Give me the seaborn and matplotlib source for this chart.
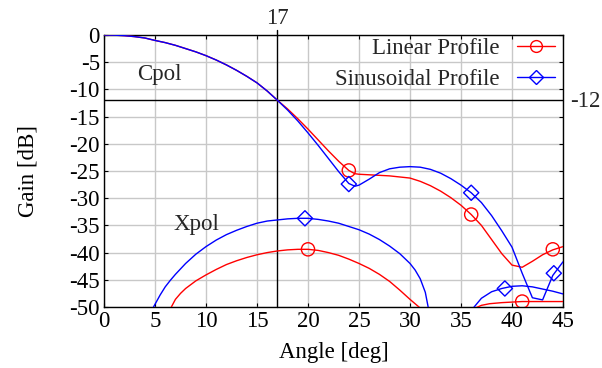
import matplotlib
matplotlib.use("Agg")
import matplotlib.pyplot as plt
from matplotlib.lines import Line2D
import seaborn as sns
import pandas as pd

# Co-polar gain [dB] versus angle [deg]
cpol_angle = [0, 1, 2, 3, 4, 5, 6, 7, 8, 9, 10, 11, 12, 13, 14, 15, 16, 17,
              18, 19, 20, 21, 22, 23, 24, 24.6, 25, 26, 27, 28, 29, 30, 31, 32,
              33, 34, 35, 36, 37, 38, 39, 40, 41, 42, 43, 44, 45]
cpol_linear = [0, -0.03, -0.12, -0.3, -0.55, -1.0, -1.4, -1.9, -2.5, -3.1, -3.8,
               -4.6, -5.5, -6.5, -7.6, -8.8, -10.3, -12.0,
               -13.6, -15.4, -17.3, -19.3, -21.3, -23.2, -24.9, -25.5, -25.6,
               -25.7, -25.8, -25.9, -26.1, -26.3, -26.9, -27.7, -28.7, -29.9,
               -31.3, -33.0, -35.0, -37.6, -40.2, -42.3, -42.7, -41.6, -40.4,
               -39.5, -38.9]
cpol_sinus = [0, -0.03, -0.12, -0.3, -0.55, -1.0, -1.4, -1.9, -2.5, -3.1, -3.8,
              -4.6, -5.5, -6.5, -7.6, -8.8, -10.3, -12.0,
              -13.8, -15.8, -18.0, -20.3, -22.7, -25.1, -27.3, -27.8, -27.6,
              -26.5, -25.3, -24.6, -24.3, -24.2, -24.3, -24.7, -25.4, -26.4,
              -27.6, -29.0, -30.8, -33.2, -36.0, -39.0, -43.8, -48.3, -48.7,
              -44.2, -41.7]

# Cross-polar gain, main lobe
xpol_lin_angle = [6.6, 6.8, 7, 7.5, 8, 9, 10, 11, 12, 13, 14, 15, 16, 17, 18, 19,
                  20, 21, 22, 23, 24, 25, 26, 27, 28, 29, 30, 30.5, 31]
xpol_lin_gain = [-50, -49.3, -48.6, -47.5, -46.6, -45.2, -44.1, -43.1, -42.2,
                 -41.5, -40.9, -40.4, -40.0, -39.7, -39.5, -39.4, -39.4, -39.6,
                 -40.0, -40.5, -41.2, -42.0, -42.9, -44.0, -45.3, -46.9, -48.6,
                 -49.4, -50.2]
xpol_sin_angle = [4.85, 5, 5.5, 6, 6.5, 7, 8, 9, 10, 11, 12, 13, 14, 15, 16, 17,
                  18, 19, 20, 21, 22, 23, 24, 25, 26, 27, 28, 29, 30, 30.5, 31,
                  31.5, 31.8]
xpol_sin_gain = [-50, -49.5, -47.8, -46.3, -45.1, -44.0, -42.0, -40.3, -38.9,
                 -37.7, -36.7, -35.9, -35.2, -34.6, -34.2, -34.0, -33.8, -33.7,
                 -33.7, -33.9, -34.2, -34.6, -35.2, -35.8, -36.6, -37.6, -38.8,
                 -40.2, -42.0, -43.2, -44.8, -47.3, -50.2]

# Cross-polar gain, second lobe
xpol2_lin_angle = [36.4, 37, 37.8, 39, 40, 41, 42, 43, 44, 45]
xpol2_lin_gain = [-50.2, -49.7, -49.4, -49.2, -49.1, -49.0, -49.0, -49.0, -49.0, -49.0]
xpol2_sin_angle = [36.2, 37, 38, 39, 40, 41, 42, 43, 44, 45]
xpol2_sin_gain = [-50.2, -48.4, -47.2, -46.6, -46.2, -46.1, -46.3, -46.7, -47.1, -47.6]

# Marker positions
mark_lin_angle = [20, 24, 36, 44, 41]
mark_lin_gain = [-39.4, -24.9, -33.0, -39.4, -49.0]
mark_sin_angle = [19.7, 24, 36, 44.1, 39.3]
mark_sin_gain = [-33.7, -27.4, -29.0, -43.8, -46.6]

RED = "#ff0000"
BLUE = "#0000ff"

sns.set_theme(style="whitegrid")
plt.rcParams["font.family"] = ["Liberation Serif", "DejaVu Serif"]
plt.rcParams["axes.unicode_minus"] = False
FS = 16.5

fig = plt.figure(figsize=(6.02, 3.68), dpi=100)
ax = fig.add_axes([0.1728, 0.1658, 0.7624, 0.7391])
ax.set_facecolor("white")

ax.grid(True, color="#c8c8c8", linewidth=1.0)
for side in ["left", "right", "top", "bottom"]:
    ax.spines[side].set_color("black")
    ax.spines[side].set_linewidth(1.0)

lw = 1.0
segments = [
    (cpol_angle, cpol_linear, RED),
    (cpol_angle, cpol_sinus, BLUE),
    (xpol_lin_angle, xpol_lin_gain, RED),
    (xpol_sin_angle, xpol_sin_gain, BLUE),
    (xpol2_lin_angle, xpol2_lin_gain, RED),
    (xpol2_sin_angle, xpol2_sin_gain, BLUE),
]
for xs, ys, c in segments:
    df = pd.DataFrame({"angle": xs, "gain": ys})
    sns.lineplot(data=df, x="angle", y="gain", color=c, linewidth=lw,
                 sort=False, estimator=None, ax=ax, zorder=3)

sns.scatterplot(x=mark_lin_angle, y=mark_lin_gain, marker="o", s=90,
                facecolor="none", edgecolor=RED, linewidth=1.0, ax=ax, zorder=4)
sns.scatterplot(x=mark_sin_angle, y=mark_sin_gain, marker="D", s=60,
                facecolor="none", edgecolor=BLUE, linewidth=1.0, ax=ax, zorder=4)

# Reference lines at 17 deg and -12 dB
ax.axhline(-12, color="black", linewidth=1.0, zorder=2)
ax.axvline(17, ymin=0, ymax=1.02, color="black", linewidth=1.0, clip_on=False, zorder=2)
ax.text(17, 1.06, "17", transform=ax.get_xaxis_transform(), ha="center",
        va="center", fontsize=FS)
ax.text(1.015, -12.3, "-12", transform=ax.get_yaxis_transform(), ha="left",
        va="center", fontsize=FS)

ax.text(3.2, -7.3, "Cpol", ha="left", va="center", fontsize=FS)
ax.text(9.1, -34.8, "Xpol", ha="center", va="center", fontsize=FS)

ax.set_xlim(0, 45)
ax.set_ylim(-50, 0)
ax.set_xticks(range(0, 46, 5))
ax.set_yticks(range(-50, 1, 5))
ax.tick_params(axis="both", which="both", direction="in", length=3, width=0.8,
               labelsize=FS, pad=3, colors="black", top=True, right=True,
               bottom=True, left=True)
ax.set_xlabel("Angle [deg]", fontsize=FS, color="black", labelpad=7)
ax.set_ylabel("Gain [dB]", fontsize=FS, color="black", labelpad=22)

handles = [
    Line2D([], [], color=RED, linewidth=lw, marker="o", markersize=8.5,
           markerfacecolor="none", markeredgecolor=RED),
    Line2D([], [], color=BLUE, linewidth=lw, marker="D", markersize=7,
           markerfacecolor="none", markeredgecolor=BLUE),
]
leg = ax.legend(handles, ["Linear Profile", "Sinusoidal Profile"],
                loc="upper right", bbox_to_anchor=(0.99, 1.0), frameon=False,
                markerfirst=False, fontsize=FS, handlelength=1.65,
                borderaxespad=0.0, borderpad=0.15, labelspacing=0.4,
                handletextpad=0.75)

fig.savefig("out.png", dpi=100, facecolor="white")
